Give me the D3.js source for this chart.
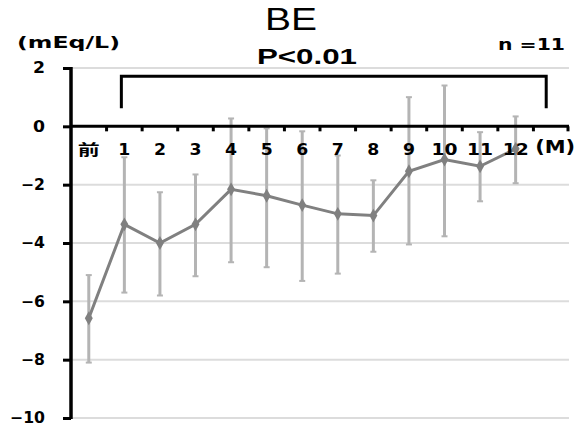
<!DOCTYPE html>
<html>
<head>
<meta charset="utf-8">
<script src="https://cdn.jsdelivr.net/npm/d3@7"></script>
<style>
  body { margin: 0; background: #fff; }
  text { font-family: "DejaVu Sans", Verdana, "Noto Sans CJK JP", sans-serif; }
</style>
</head>
<body>
<div id="chart"></div>
<script>
// Data
const categories = ["前", "1", "2", "3", "4", "5", "6", "7", "8", "9", "10", "11", "12"];
const means = [-6.58, -3.36, -4.0, -3.36, -2.16, -2.38, -2.7, -3.0, -3.06, -1.54, -1.14, -1.37, -0.77];
const upper = [-5.1, -1.06, -2.26, -1.65, 0.27, -0.07, -0.17, -1.0, -1.85, 1.0, 1.4, -0.2, 0.34];
const lower = [-8.1, -5.7, -5.8, -5.14, -4.66, -4.83, -5.3, -5.05, -4.3, -4.05, -3.77, -2.57, -1.95];
const yTicks = [2, 0, -2, -4, -6, -8, -10];
const unitSlot = "(M)";

const data = categories.map((c, i) => ({ cat: c, mean: means[i], hi: upper[i], lo: lower[i] }));

const margin = { top: 68, right: 19, bottom: 8, left: 71 };
const width = 588 - margin.left - margin.right;
const height = 426 - margin.top - margin.bottom;

const svg = d3.select("#chart").append("svg")
    .attr("width", 588)
    .attr("height", 426)
    .append("g")
    .attr("transform", "translate(" + margin.left + "," + margin.top + ")");

const x = d3.scaleBand().domain(categories.concat([unitSlot])).range([0, width]).padding(0);
const y = d3.scaleLinear().domain([-10, 2]).range([height, 0]);
const cx = d => x(d) + x.bandwidth() / 2;

// Gridlines
svg.append("g").selectAll("line")
    .data(yTicks.filter(t => t !== 0))
    .join("line")
    .attr("x1", 0).attr("x2", width)
    .attr("y1", d => y(d)).attr("y2", d => y(d))
    .attr("stroke", "#dcdcdc").attr("stroke-width", 2);

// Error bars
const err = svg.append("g").attr("stroke", "#b4b4b4").attr("stroke-width", 3);
err.selectAll("line.bar").data(data).join("line").attr("class", "bar")
    .attr("x1", d => cx(d.cat)).attr("x2", d => cx(d.cat))
    .attr("y1", d => y(d.hi)).attr("y2", d => y(d.lo));
err.selectAll("line.capHi").data(data).join("line").attr("class", "capHi")
    .attr("x1", d => cx(d.cat) - 3).attr("x2", d => cx(d.cat) + 3)
    .attr("y1", d => y(d.hi)).attr("y2", d => y(d.hi)).attr("stroke-width", 2);
err.selectAll("line.capLo").data(data).join("line").attr("class", "capLo")
    .attr("x1", d => cx(d.cat) - 3).attr("x2", d => cx(d.cat) + 3)
    .attr("y1", d => y(d.lo)).attr("y2", d => y(d.lo)).attr("stroke-width", 2);

// Zero axis with ticks at band boundaries
svg.append("line")
    .attr("x1", 0).attr("x2", width)
    .attr("y1", y(0)).attr("y2", y(0))
    .attr("stroke", "#000").attr("stroke-width", 3);
svg.append("g").selectAll("line")
    .data(categories.concat([unitSlot]).slice(1))
    .join("line")
    .attr("x1", d => x(d)).attr("x2", d => x(d))
    .attr("y1", y(0)).attr("y2", y(0) + 5)
    .attr("stroke", "#000").attr("stroke-width", 3);
svg.append("line")
    .attr("x1", width - 1).attr("x2", width - 1)
    .attr("y1", y(0)).attr("y2", y(0) + 5)
    .attr("stroke", "#000").attr("stroke-width", 3);

// Mean line and markers
svg.append("path")
    .datum(data)
    .attr("fill", "none")
    .attr("stroke", "#808080")
    .attr("stroke-width", 3)
    .attr("d", d3.line().x(d => cx(d.cat)).y(d => y(d.mean)));
svg.append("g").selectAll("path")
    .data(data)
    .join("path")
    .attr("transform", d => "translate(" + cx(d.cat) + "," + y(d.mean) + ")")
    .attr("d", d3.symbol(d3.symbolDiamond, 55))
    .attr("fill", "#808080");

// Y axis
const yAxis = svg.append("g")
    .call(d3.axisLeft(y).tickValues(yTicks).tickSize(8).tickSizeOuter(0).tickFormat(d3.format("d")));
yAxis.select(".domain").remove();
yAxis.selectAll(".tick line").attr("stroke", "#000").attr("stroke-width", 3);
yAxis.selectAll(".tick text")
    .attr("x", -26)
    .style("font-size", "15px").style("font-weight", "bold").attr("fill", "#000")
    .each(function(d) {
        const s = String(d);
        d3.select(this).attr("textLength", s.length === 1 ? 12 : s.length === 2 ? 24 : 35)
            .attr("lengthAdjust", "spacingAndGlyphs");
    });
svg.append("line")
    .attr("x1", 0).attr("x2", 0)
    .attr("y1", y(2) - 1).attr("y2", y(-10) + 1)
    .attr("stroke", "#000").attr("stroke-width", 3.5);

// X labels
svg.append("g").selectAll("text")
    .data(categories)
    .join("text")
    .attr("x", d => cx(d))
    .attr("y", y(0) + 29)
    .attr("text-anchor", "middle")
    .style("font-size", "15px").style("font-weight", "bold")
    .text(d => d)
    .each(function(d) {
        const w = d === "前" ? 22 : d.length === 1 ? 12 : 26;
        d3.select(this).attr("textLength", w).attr("lengthAdjust", "spacingAndGlyphs");
    });
svg.append("text")
    .attr("x", cx(unitSlot) + 4)
    .attr("y", y(0) + 27)
    .attr("text-anchor", "middle")
    .style("font-size", "17px").style("font-weight", "bold")
    .attr("textLength", 40).attr("lengthAdjust", "spacingAndGlyphs")
    .text(unitSlot);

// Significance bracket from month 1 to the end
svg.append("path")
    .attr("fill", "none")
    .attr("stroke", "#000")
    .attr("stroke-width", 3)
    .attr("d", "M" + (cx("1") - 3) + "," + y(0.62) +
               "V" + y(1.72) +
               "H" + (cx(unitSlot) - 5) +
               "V" + y(0.62));

// Titles
svg.append("text")
    .attr("x", 291 - margin.left).attr("y", 30 - margin.top)
    .attr("text-anchor", "middle")
    .style("font-family", "'Liberation Sans', Arial, sans-serif")
    .style("font-size", "32px")
    .attr("textLength", 52).attr("lengthAdjust", "spacingAndGlyphs")
    .text("BE");
svg.append("text")
    .attr("x", 307 - margin.left).attr("y", 64 - margin.top)
    .attr("text-anchor", "middle")
    .style("font-family", "'Liberation Sans', Arial, sans-serif")
    .style("font-size", "22px").style("font-weight", "bold")
    .attr("textLength", 100).attr("lengthAdjust", "spacingAndGlyphs")
    .text("P<0.01");
svg.append("text")
    .attr("x", 565 - margin.left).attr("y", 50 - margin.top)
    .attr("text-anchor", "end")
    .style("font-size", "15px").style("font-weight", "bold")
    .attr("textLength", 67).attr("lengthAdjust", "spacingAndGlyphs")
    .text("n =11");
svg.append("text")
    .attr("x", 17 - margin.left).attr("y", 48 - margin.top)
    .style("font-size", "15px").style("font-weight", "bold")
    .attr("textLength", 103).attr("lengthAdjust", "spacingAndGlyphs")
    .text("(mEq/L)");
</script>
</body>
</html>
